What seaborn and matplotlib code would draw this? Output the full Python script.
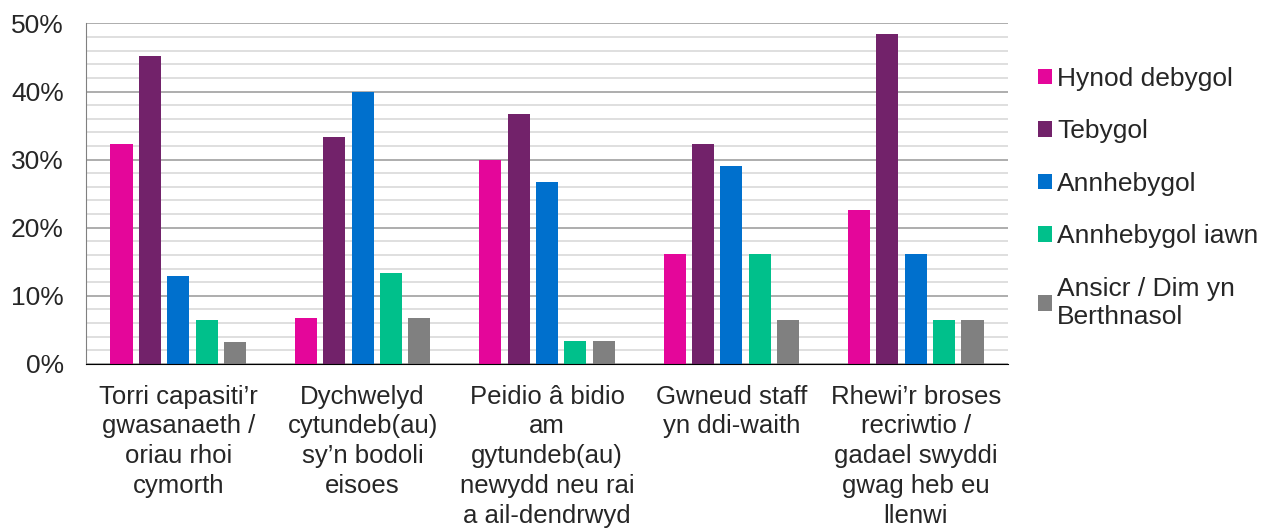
import matplotlib
matplotlib.use("Agg")
import pandas as pd
import matplotlib.pyplot as plt
from matplotlib.ticker import MultipleLocator, FuncFormatter
import seaborn as sns

categories = [
    "Torri capasiti’r\ngwasanaeth /\noriau rhoi\ncymorth",
    "Dychwelyd\ncytundeb(au)\nsy’n bodoli\neisoes",
    "Peidio â bidio\nam\ngytundeb(au)\nnewydd neu rai\na ail-dendrwyd",
    "Gwneud staff\nyn ddi-waith",
    "Rhewi’r broses\nrecriwtio /\ngadael swyddi\ngwag heb eu\nllenwi",
]
series = ["Hynod debygol", "Tebygol", "Annhebygol", "Annhebygol iawn",
          "Ansicr / Dim yn\nBerthnasol"]

hynod_debygol = [32.3, 6.7, 30.0, 16.1, 22.6]
tebygol = [45.2, 33.3, 36.7, 32.3, 48.4]
annhebygol = [12.9, 40.0, 26.7, 29.0, 16.1]
annhebygol_iawn = [6.5, 13.3, 3.3, 16.1, 6.5]
ansicr = [3.2, 6.7, 3.3, 6.5, 6.5]

colours = ["#E4069A", "#72226A", "#0070CD", "#00C08B", "#808080"]

rows = []
for s, vals in zip(series, [hynod_debygol, tebygol, annhebygol, annhebygol_iawn, ansicr]):
    for c, v in zip(categories, vals):
        rows.append({"cat": c, "series": s, "val": v})
df = pd.DataFrame(rows)

sns.set_style("white")
plt.rcParams["font.family"] = ["Liberation Sans", "DejaVu Sans"]

fig = plt.figure(figsize=(12.69, 5.32), dpi=100)
ax = fig.add_axes([0.0678, 0.316, 0.7265, 0.640])

sns.barplot(data=df, x="cat", y="val", hue="series", hue_order=series,
            palette=colours, saturation=1, width=0.77, gap=0.22,
            errorbar=None, linewidth=0, ax=ax)

ax.set_ylim(0, 50)
ax.yaxis.set_major_locator(MultipleLocator(10))
ax.yaxis.set_minor_locator(MultipleLocator(2))
ax.yaxis.set_major_formatter(FuncFormatter(lambda v, p: f"{v:.0f}%"))
ax.set_axisbelow(True)
ax.grid(which="minor", axis="y", color="#d9d9d9", lw=1.2)
ax.grid(which="major", axis="y", color="#a0a0a0", lw=1.2)
ax.set_xlabel("")
ax.set_ylabel("")
ax.tick_params(axis="both", which="both", length=0)
ax.tick_params(axis="y", labelsize=19, pad=16)
ax.tick_params(axis="x", labelsize=18.5, pad=15)
for lab in ax.get_xticklabels():
    lab.set_linespacing(1.3)

ax.spines["right"].set_visible(False)
ax.spines["top"].set_visible(False)
ax.spines["left"].set_color("#808080")
ax.spines["bottom"].set_color("black")

handles, labels = ax.get_legend_handles_labels()
ax.legend_.remove()
fig.legend(handles, labels, loc="upper left",
           bbox_to_anchor=(1014 / 1269, 1 - 43 / 532), frameon=False,
           fontsize=19, handlelength=0.53, handleheight=0.53,
           handletextpad=0.2, labelspacing=1.08)

fig.savefig("out.png", dpi=100)
